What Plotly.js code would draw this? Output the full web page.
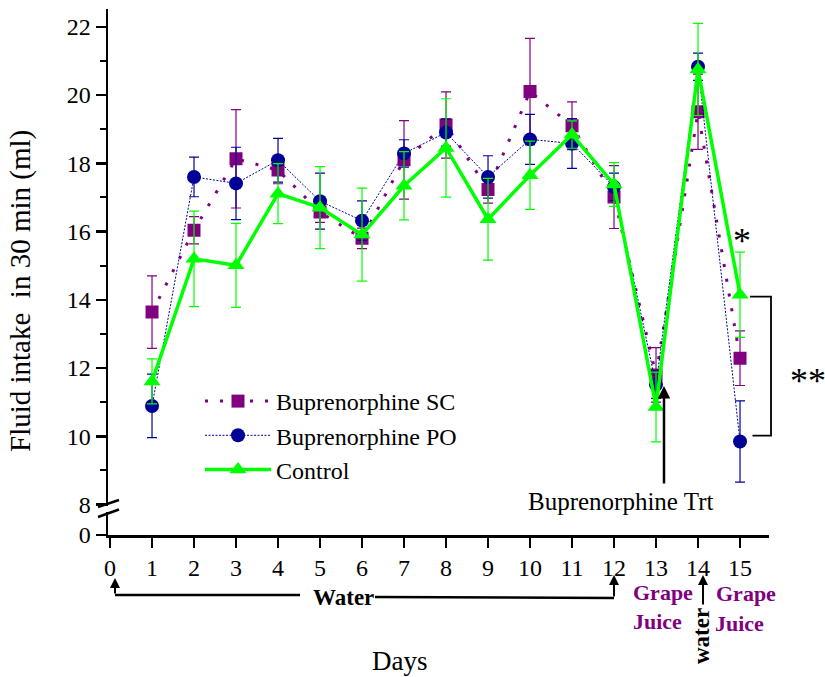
<!DOCTYPE html>
<html>
<head>
<meta charset="utf-8">
<script src="https://cdn.plot.ly/plotly-3.0.1.min.js"></script>
<style>html,body{margin:0;padding:0;background:#fff;}#chart{width:825px;height:677px;}</style>
</head>
<body>
<div id="chart"></div>
<script>
// ---- data ----
const days = [1,2,3,4,5,6,7,8,9,10,11,12,13,14,15];
const xTicks = [0,1,2,3,4,5,6,7,8,9,10,11,12,13,14,15];
const seriesNames = ["Buprenorphine SC", "Buprenorphine PO", "Control"];
const scMean = [13.64,16.04,18.13,17.80,16.57,15.80,18.10,19.12,17.23,20.10,19.10,17.01,11.80,19.51,12.29];
const scErr  = [1.06,0.40,1.44,0.40,0.30,0.30,1.15,0.97,0.40,1.56,0.70,0.92,0.80,1.10,0.80];
const poMean = [10.89,17.60,17.41,18.09,16.89,16.32,18.29,18.90,17.60,18.70,18.58,17.31,11.51,20.83,9.85];
const poErr  = [0.93,0.58,1.06,0.64,0.82,0.58,0.40,0.40,0.62,0.73,0.73,0.40,0.40,0.40,1.19];
const ctMean = [11.61,15.20,15.01,17.11,16.70,15.91,17.34,18.45,16.36,17.65,18.84,17.38,10.86,20.75,14.15];
const ctErr  = [0.66,1.40,1.23,0.88,1.20,1.36,1.00,1.44,1.20,1.00,0.40,0.64,1.02,1.35,1.25];
const yMajor = [8,10,12,14,16,18,20,22];
const yMinor = [9,11,13,15,17,19,21];
const yLowTicks = [0];

// ---- geometry helpers (pixel -> paper) ----
const L = 108, R = 769, T = 9, B = 535;
const W = R - L, H = B - T;
const px = v => (v - L) / W;
const py = v => (B - v) / H;

const PURPLE = '#800080', NAVY = '#000096', LIME = '#00FF00';
const serif = '"Liberation Serif", "Times New Roman", serif';

const traces = [
  {x: days, y: scMean, name: seriesNames[0], type: 'scatter', mode: 'lines+markers', legendgroup: 'a',
   line: {color: PURPLE, width: 3, dash: '3px,12px'},
   marker: {symbol: 'square', size: 13, color: PURPLE},
   error_y: {type: 'data', array: scErr, visible: true, color: PURPLE, thickness: 1.2, width: 5}},
  {x: days, y: poMean, name: seriesNames[1], type: 'scatter', mode: 'lines+markers', legendgroup: 'b',
   line: {color: NAVY, width: 1, dash: '2px,1.5px'},
   marker: {symbol: 'circle', size: 14, color: NAVY},
   error_y: {type: 'data', array: poErr, visible: true, color: NAVY, thickness: 1.2, width: 5}},
  {x: days, y: ctMean, name: seriesNames[2], type: 'scatter', mode: 'lines+markers', legendgroup: 'c',
   line: {color: LIME, width: 3.5},
   marker: {symbol: 'triangle-up', size: 15, color: LIME},
   error_y: {type: 'data', array: ctErr, visible: true, color: LIME, thickness: 1.2, width: 5}},
  // empty trace so that the lower (broken) y segment exists
  {x: [], y: [], xaxis: 'x', yaxis: 'y2', type: 'scatter', mode: 'markers', showlegend: false, hoverinfo: 'skip'}
];

const ann = (x, y, text, opts) => Object.assign({xref: 'paper', yref: 'paper', x: px(x), y: py(y), text: text,
  showarrow: false, xanchor: 'center', yanchor: 'middle', font: {family: serif, size: 24, color: '#000'}}, opts || {});
const arrow = (x, yTail, yHead, w) => ({xref: 'paper', yref: 'paper', x: px(x), y: py(yHead), ax: 0, ay: yTail - yHead,
  text: '', showarrow: true, arrowhead: 2, arrowsize: 1, arrowwidth: w || 2, arrowcolor: '#000'});
const seg = (x0, y0, x1, y1, w) => ({type: 'line', xref: 'paper', yref: 'paper', x0: px(x0), y0: py(y0), x1: px(x1), y1: py(y1),
  line: {color: '#000', width: w || 2.5}});

const axisStyle = {ticks: 'outside', ticklen: 10, tickwidth: 2.5, tickcolor: '#000', showline: true, linewidth: 2.5,
  linecolor: '#000', showgrid: false, zeroline: false, tickfont: {family: serif, size: 24, color: '#000'}};

const layout = {
  width: 825, height: 677,
  margin: {l: L, r: 825 - R, t: T, b: 677 - B},
  paper_bgcolor: '#fff', plot_bgcolor: '#fff',
  showlegend: true,
  font: {family: serif, size: 24, color: '#000'},
  legend: {x: px(200), y: py(379), xanchor: 'left', yanchor: 'top', bgcolor: 'rgba(0,0,0,0)',
           font: {family: serif, size: 24, color: '#000'}, itemwidth: 66, tracegroupgap: 0, traceorder: 'normal'},
  xaxis: Object.assign({range: [-0.048, 15.69], anchor: 'y2', tickvals: xTicks, ticktext: xTicks.map(String)}, axisStyle),
  yaxis: Object.assign({domain: [(B - 505.5) / H, 1], range: [7.974, 22.52], tickvals: yMajor, ticktext: yMajor.map(String),
          minor: {tickvals: yMinor, ticks: 'outside', ticklen: 6, tickwidth: 2, tickcolor: '#000', showgrid: false}}, axisStyle),
  yaxis2: Object.assign({domain: [0, (B - 512) / H], range: [0, 1], tickvals: yLowTicks, ticktext: yLowTicks.map(String)}, axisStyle),
  shapes: [
    // axis break marks
    seg(98, 507, 119, 500, 2.5),
    seg(98, 517, 119, 509.5, 2.5),
    // significance bracket
    {type: 'path', xref: 'paper', yref: 'paper',
     path: `M${px(750)},${py(296.7)} L${px(771)},${py(296.7)} L${px(771)},${py(435.7)} L${px(752.5)},${py(435.7)}`,
     line: {color: '#000', width: 1.8}},
    // water lines
    seg(115, 595, 300, 595, 2.5),
    seg(375, 597, 614, 598, 2.5)
  ],
  annotations: [
    ann(20, 291, 'Fluid intake\u00A0\u00A0in 30 min (ml)', {textangle: -90, font: {family: serif, size: 29, color: '#000'}}),
    ann(400, 661, 'Days', {font: {family: serif, size: 27, color: '#000'}}),
    ann(620, 501, 'Buprenorphine Trt', {font: {family: serif, size: 25, color: '#000'}}),
    arrow(664, 485, 386, 2.5),
    ann(742, 241, '*', {font: {family: serif, size: 36, color: '#000'}}),
    ann(808, 381, '**', {font: {family: serif, size: 36, color: '#000'}}),
    ann(343, 597, '<b>Water</b>', {font: {family: serif, size: 23, color: '#000'}}),
    arrow(115, 595, 578, 2),
    arrow(614, 598, 575, 2),
    arrow(703, 606, 575, 2),
    ann(663, 592, '<b>Grape</b>', {font: {family: serif, size: 22, color: PURPLE}}),
    ann(657, 621, '<b>Juice</b>', {font: {family: serif, size: 22, color: PURPLE}}),
    ann(746, 593, '<b>Grape</b>', {font: {family: serif, size: 22, color: PURPLE}}),
    ann(739, 623, '<b>Juice</b>', {font: {family: serif, size: 22, color: PURPLE}}),
    ann(701, 636, '<b>water</b>', {textangle: -90, font: {family: serif, size: 23, color: '#000'}})
  ]
};

Plotly.newPlot('chart', traces, layout, {displayModeBar: false, staticPlot: true});
</script>
</body>
</html>
